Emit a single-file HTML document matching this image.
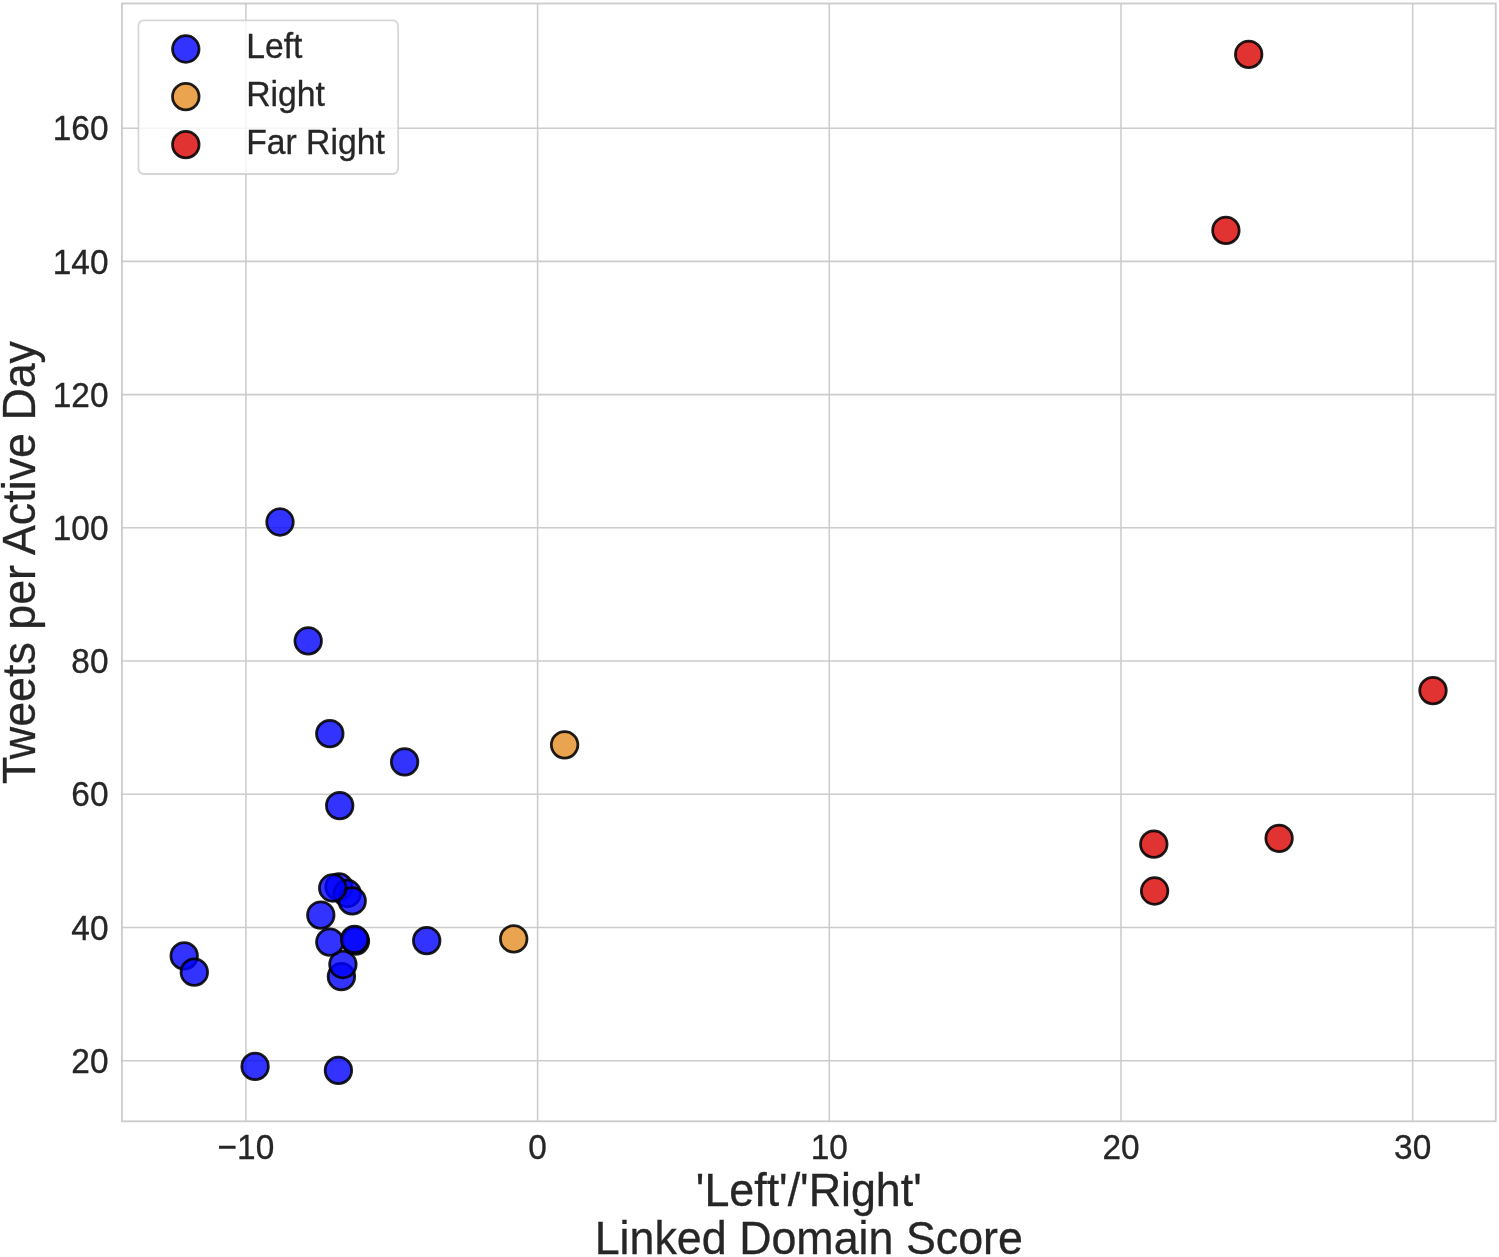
<!DOCTYPE html>
<html><head><meta charset="utf-8"><title>Scatter</title>
<style>html,body{margin:0;padding:0;background:#fff;}body{width:1499px;height:1257px;overflow:hidden;}svg{display:block;will-change:transform;}text{font-family:"Liberation Sans", sans-serif;fill:#262626;stroke:#262626;stroke-width:0.3px;}</style></head><body>
<svg width="1499" height="1257" viewBox="0 0 1499 1257">
<rect x="0" y="0" width="1499" height="1257" fill="#ffffff"/>
<g stroke="#cccccc" stroke-width="1.55" fill="none">
<line x1="245.91" y1="3.5" x2="245.91" y2="1121.3"/>
<line x1="537.60" y1="3.5" x2="537.60" y2="1121.3"/>
<line x1="829.29" y1="3.5" x2="829.29" y2="1121.3"/>
<line x1="1120.98" y1="3.5" x2="1120.98" y2="1121.3"/>
<line x1="1412.67" y1="3.5" x2="1412.67" y2="1121.3"/>
<line x1="121.9" y1="1060.70" x2="1495.75" y2="1060.70"/>
<line x1="121.9" y1="927.48" x2="1495.75" y2="927.48"/>
<line x1="121.9" y1="794.26" x2="1495.75" y2="794.26"/>
<line x1="121.9" y1="661.05" x2="1495.75" y2="661.05"/>
<line x1="121.9" y1="527.83" x2="1495.75" y2="527.83"/>
<line x1="121.9" y1="394.61" x2="1495.75" y2="394.61"/>
<line x1="121.9" y1="261.39" x2="1495.75" y2="261.39"/>
<line x1="121.9" y1="128.17" x2="1495.75" y2="128.17"/>
</g>
<g>
<circle cx="184.2" cy="955.9" r="13.27" fill="#0000ff" fill-opacity="0.8" stroke="#000000" stroke-opacity="0.88" stroke-width="2.76"/>
<circle cx="194.3" cy="972.2" r="13.27" fill="#0000ff" fill-opacity="0.8" stroke="#000000" stroke-opacity="0.88" stroke-width="2.76"/>
<circle cx="255.1" cy="1066.4" r="13.27" fill="#0000ff" fill-opacity="0.8" stroke="#000000" stroke-opacity="0.88" stroke-width="2.76"/>
<circle cx="338.4" cy="1070.4" r="13.27" fill="#0000ff" fill-opacity="0.8" stroke="#000000" stroke-opacity="0.88" stroke-width="2.76"/>
<circle cx="341.4" cy="976.7" r="13.27" fill="#0000ff" fill-opacity="0.8" stroke="#000000" stroke-opacity="0.88" stroke-width="2.76"/>
<circle cx="342.9" cy="964.5" r="13.27" fill="#0000ff" fill-opacity="0.8" stroke="#000000" stroke-opacity="0.88" stroke-width="2.76"/>
<circle cx="329.8" cy="942.1" r="13.27" fill="#0000ff" fill-opacity="0.8" stroke="#000000" stroke-opacity="0.88" stroke-width="2.76"/>
<circle cx="355.5" cy="941.1" r="13.27" fill="#0000ff" fill-opacity="0.8" stroke="#000000" stroke-opacity="0.88" stroke-width="2.76"/>
<circle cx="354.6" cy="939.3" r="13.27" fill="#0000ff" fill-opacity="0.8" stroke="#000000" stroke-opacity="0.88" stroke-width="2.76"/>
<circle cx="320.8" cy="915.1" r="13.27" fill="#0000ff" fill-opacity="0.8" stroke="#000000" stroke-opacity="0.88" stroke-width="2.76"/>
<circle cx="339.0" cy="886.8" r="13.27" fill="#0000ff" fill-opacity="0.8" stroke="#000000" stroke-opacity="0.88" stroke-width="2.76"/>
<circle cx="347.2" cy="893.5" r="13.27" fill="#0000ff" fill-opacity="0.8" stroke="#000000" stroke-opacity="0.88" stroke-width="2.76"/>
<circle cx="352.2" cy="900.9" r="13.27" fill="#0000ff" fill-opacity="0.8" stroke="#000000" stroke-opacity="0.88" stroke-width="2.76"/>
<circle cx="332.7" cy="888.0" r="13.27" fill="#0000ff" fill-opacity="0.8" stroke="#000000" stroke-opacity="0.88" stroke-width="2.76"/>
<circle cx="426.7" cy="940.7" r="13.27" fill="#0000ff" fill-opacity="0.8" stroke="#000000" stroke-opacity="0.88" stroke-width="2.76"/>
<circle cx="339.7" cy="805.7" r="13.27" fill="#0000ff" fill-opacity="0.8" stroke="#000000" stroke-opacity="0.88" stroke-width="2.76"/>
<circle cx="404.6" cy="761.9" r="13.27" fill="#0000ff" fill-opacity="0.8" stroke="#000000" stroke-opacity="0.88" stroke-width="2.76"/>
<circle cx="329.8" cy="733.7" r="13.27" fill="#0000ff" fill-opacity="0.8" stroke="#000000" stroke-opacity="0.88" stroke-width="2.76"/>
<circle cx="308.2" cy="640.9" r="13.27" fill="#0000ff" fill-opacity="0.8" stroke="#000000" stroke-opacity="0.88" stroke-width="2.76"/>
<circle cx="280.0" cy="522.0" r="13.27" fill="#0000ff" fill-opacity="0.8" stroke="#000000" stroke-opacity="0.88" stroke-width="2.76"/>
<circle cx="513.7" cy="938.9" r="13.27" fill="#e58c22" fill-opacity="0.8" stroke="#000000" stroke-opacity="0.88" stroke-width="2.76"/>
<circle cx="564.6" cy="744.8" r="13.27" fill="#e58c22" fill-opacity="0.8" stroke="#000000" stroke-opacity="0.88" stroke-width="2.76"/>
<circle cx="1248.7" cy="54.4" r="13.27" fill="#db0000" fill-opacity="0.8" stroke="#000000" stroke-opacity="0.88" stroke-width="2.76"/>
<circle cx="1225.9" cy="230.4" r="13.27" fill="#db0000" fill-opacity="0.8" stroke="#000000" stroke-opacity="0.88" stroke-width="2.76"/>
<circle cx="1433.0" cy="690.6" r="13.27" fill="#db0000" fill-opacity="0.8" stroke="#000000" stroke-opacity="0.88" stroke-width="2.76"/>
<circle cx="1153.8" cy="844.2" r="13.27" fill="#db0000" fill-opacity="0.8" stroke="#000000" stroke-opacity="0.88" stroke-width="2.76"/>
<circle cx="1279.1" cy="838.3" r="13.27" fill="#db0000" fill-opacity="0.8" stroke="#000000" stroke-opacity="0.88" stroke-width="2.76"/>
<circle cx="1154.6" cy="891.0" r="13.27" fill="#db0000" fill-opacity="0.8" stroke="#000000" stroke-opacity="0.88" stroke-width="2.76"/>
</g>
<rect x="121.9" y="3.5" width="1373.85" height="1117.80" fill="none" stroke="#cccccc" stroke-width="1.85"/>
<text transform="translate(108.50,1072.90) scale(1,1.06)" font-size="33.4" text-anchor="end">20</text>
<text transform="translate(108.50,939.68) scale(1,1.06)" font-size="33.4" text-anchor="end">40</text>
<text transform="translate(108.50,806.46) scale(1,1.06)" font-size="33.4" text-anchor="end">60</text>
<text transform="translate(108.50,673.25) scale(1,1.06)" font-size="33.4" text-anchor="end">80</text>
<text transform="translate(108.50,540.03) scale(1,1.06)" font-size="33.4" text-anchor="end">100</text>
<text transform="translate(108.50,406.81) scale(1,1.06)" font-size="33.4" text-anchor="end">120</text>
<text transform="translate(108.50,273.59) scale(1,1.06)" font-size="33.4" text-anchor="end">140</text>
<text transform="translate(108.50,140.37) scale(1,1.06)" font-size="33.4" text-anchor="end">160</text>
<text transform="translate(245.91,1158.80) scale(1,1.06)" font-size="33.4" text-anchor="middle">−10</text>
<text transform="translate(537.60,1158.80) scale(1,1.06)" font-size="33.4" text-anchor="middle">0</text>
<text transform="translate(829.29,1158.80) scale(1,1.06)" font-size="33.4" text-anchor="middle">10</text>
<text transform="translate(1120.98,1158.80) scale(1,1.06)" font-size="33.4" text-anchor="middle">20</text>
<text transform="translate(1412.67,1158.80) scale(1,1.06)" font-size="33.4" text-anchor="middle">30</text>
<text transform="translate(808.80,1205.80) scale(1,1.04)" font-size="44.8" text-anchor="middle">'Left'/'Right'</text>
<text transform="translate(808.80,1253.50) scale(1,1.04)" font-size="44.8" text-anchor="middle">Linked Domain Score</text>
<text transform="translate(35.00,562.50) rotate(-90) scale(1,1.04)" font-size="44.8" text-anchor="middle">Tweets per Active Day</text>
<rect x="138.4" y="20.3" width="259.75" height="153.7" rx="5.5" ry="5.5" fill="#ffffff" fill-opacity="0.8" stroke="#cccccc" stroke-opacity="0.8" stroke-width="1.8"/>
<circle cx="185.8" cy="49.0" r="13.27" fill="#0000ff" fill-opacity="0.8" stroke="#000000" stroke-opacity="0.88" stroke-width="2.76"/>
<text transform="translate(246.20,58.10) scale(1,1.06)" font-size="33.7" text-anchor="start">Left</text>
<circle cx="185.8" cy="96.7" r="13.27" fill="#e58c22" fill-opacity="0.8" stroke="#000000" stroke-opacity="0.88" stroke-width="2.76"/>
<text transform="translate(246.20,105.90) scale(1,1.06)" font-size="33.7" text-anchor="start">Right</text>
<circle cx="185.8" cy="144.7" r="13.27" fill="#db0000" fill-opacity="0.8" stroke="#000000" stroke-opacity="0.88" stroke-width="2.76"/>
<text transform="translate(246.20,154.00) scale(1,1.06)" font-size="33.7" text-anchor="start">Far Right</text>
</svg></body></html>
